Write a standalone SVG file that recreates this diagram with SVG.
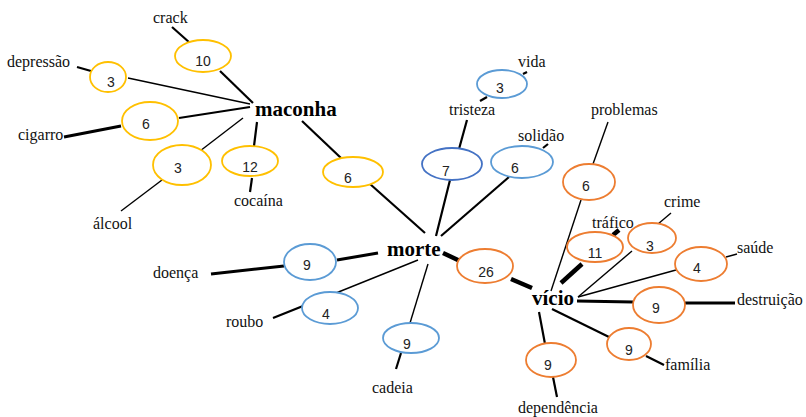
<svg xmlns="http://www.w3.org/2000/svg" width="806" height="417" viewBox="0 0 806 417">
  <style>
    .bg { fill: #ffffff; }
    .e { fill: #ffffff; stroke-width: 1.8; }
    .yl { stroke: #FFC000; }
    .bl { stroke: #5B9BD5; }
    .db { stroke: #4472C4; }
    .or { stroke: #ED7D31; }
    .n { font-family: "Liberation Sans", Arial, sans-serif; font-size: 14px; fill: #222222; text-anchor: middle; }
    .lb { font-family: "Liberation Serif", "Times New Roman", serif; font-size: 16px; fill: #111111; }
    .hub { font-family: "Liberation Serif", "Times New Roman", serif; font-size: 21px; font-weight: bold; fill: #000000; }
    .c { stroke: #000000; fill: none; stroke-linecap: butt; }
    .w1 { stroke-width: 1.4; }
    .w2 { stroke-width: 2.2; }
    .w3 { stroke-width: 3; }
    .w4 { stroke-width: 4.5; }
  </style>
  <rect class="bg" x="0" y="0" width="806" height="417"/>

  <!-- connectors -->
  <g id="connectors">
    <!-- maconha branch -->
    <line class="c w2" x1="172" y1="27" x2="190" y2="43"/>
    <line class="c w2" x1="220" y1="71" x2="253" y2="103"/>
    <line class="c w2" x1="77" y1="67" x2="91" y2="71"/>
    <line class="c w1" x1="128" y1="78" x2="250" y2="104"/>
    <line class="c w3" x1="64" y1="137" x2="121" y2="126"/>
    <line class="c w2" x1="179" y1="118" x2="250" y2="107"/>
    <line class="c w1" x1="121" y1="211" x2="162" y2="180"/>
    <line class="c w1" x1="200" y1="151" x2="243" y2="118"/>
    <line class="c w2" x1="254" y1="146" x2="257" y2="122"/>
    <line class="c w2" x1="252" y1="178" x2="250" y2="192"/>
    <line class="c w2" x1="302" y1="121" x2="341" y2="158"/>
    <!-- morte branch -->
    <line class="c w2" x1="370" y1="184" x2="425" y2="233"/>
    <line class="c w2" x1="450" y1="180" x2="436" y2="236"/>
    <line class="c w2" x1="467" y1="120" x2="459" y2="149"/>
    <line class="c w2" x1="480" y1="101" x2="487" y2="97"/>
    <line class="c w2" x1="523" y1="74" x2="527" y2="72"/>
    <line class="c w2" x1="543" y1="148" x2="548" y2="144"/>
    <line class="c w2" x1="509" y1="177" x2="441" y2="236"/>
    <line class="c w4" x1="443" y1="253" x2="460" y2="261"/>
    <line class="c w3" x1="378" y1="253" x2="337" y2="260"/>
    <line class="c w3" x1="284" y1="266" x2="211" y2="274"/>
    <line class="c w1" x1="418" y1="260" x2="336" y2="293"/>
    <line class="c w2" x1="303" y1="306" x2="273" y2="318"/>
    <line class="c w1" x1="428" y1="264" x2="410" y2="323"/>
    <line class="c w2" x1="401" y1="353" x2="396" y2="369"/>
    <!-- vício branch -->
    <line class="c w4" x1="511" y1="279" x2="532" y2="288"/>
    <line class="c w1" x1="608" y1="122" x2="593" y2="164"/>
    <line class="c w1" x1="581" y1="200" x2="551" y2="291"/>
    <line class="c w4" x1="619" y1="230" x2="613" y2="235"/>
    <line class="c w4" x1="582" y1="264" x2="561" y2="283"/>
    <line class="c w1" x1="671" y1="213" x2="658" y2="224"/>
    <line class="c w1" x1="632" y1="251" x2="578" y2="297"/>
    <line class="c w1" x1="726" y1="257" x2="737" y2="254"/>
    <line class="c w1" x1="676" y1="270" x2="578" y2="297"/>
    <line class="c w3" x1="577" y1="301" x2="633" y2="302"/>
    <line class="c w3" x1="685" y1="303" x2="735" y2="303"/>
    <line class="c w2" x1="552" y1="309" x2="609" y2="337"/>
    <line class="c w2" x1="646" y1="356" x2="664" y2="365"/>
    <line class="c w2" x1="539" y1="312" x2="545" y2="344"/>
    <line class="c w2" x1="553" y1="377" x2="557" y2="397"/>
  </g>

  <!-- hubs -->
  <g id="maconha"><text class="hub" x="255" y="116">maconha</text></g>
  <g id="morte"><text class="hub" x="387" y="256">morte</text></g>
  <g id="vicio"><text class="hub" x="532" y="305">vício</text></g>

  <!-- maconha group -->
  <g id="crack">
    <ellipse class="e yl" cx="203" cy="56" rx="28" ry="16"/>
    <text class="n" x="203" y="66">10</text>
    <text class="lb" x="153" y="23">crack</text>
  </g>
  <g id="depressao">
    <ellipse class="e yl" cx="108" cy="77" rx="18" ry="15"/>
    <text class="n" x="111" y="87">3</text>
    <text class="lb" x="7" y="67">depressão</text>
  </g>
  <g id="cigarro">
    <ellipse class="e yl" cx="150" cy="121" rx="28" ry="19"/>
    <text class="n" x="146" y="129">6</text>
    <text class="lb" x="18" y="140">cigarro</text>
  </g>
  <g id="alcool">
    <ellipse class="e yl" cx="182" cy="165" rx="29" ry="20"/>
    <text class="n" x="178" y="173">3</text>
    <text class="lb" x="93" y="229">álcool</text>
  </g>
  <g id="cocaina">
    <ellipse class="e yl" cx="250" cy="161" rx="28" ry="15"/>
    <text class="n" x="250" y="172">12</text>
    <text class="lb" x="234" y="206">cocaína</text>
  </g>
  <g id="maconha-morte">
    <ellipse class="e yl" cx="353" cy="172" rx="30" ry="15"/>
    <text class="n" x="348" y="183">6</text>
  </g>

  <!-- morte group -->
  <g id="tristeza">
    <ellipse class="e db" cx="452" cy="164" rx="30" ry="16"/>
    <text class="n" x="446" y="176">7</text>
    <text class="lb" x="449" y="115">tristeza</text>
  </g>
  <g id="vida">
    <ellipse class="e bl" cx="502" cy="84" rx="25" ry="14"/>
    <text class="n" x="500" y="93">3</text>
    <text class="lb" x="518" y="67">vida</text>
  </g>
  <g id="solidao">
    <ellipse class="e bl" cx="522" cy="162" rx="31" ry="16"/>
    <text class="n" x="515" y="173">6</text>
    <text class="lb" x="518" y="141">solidão</text>
  </g>
  <g id="doenca">
    <ellipse class="e bl" cx="310" cy="262" rx="26" ry="18"/>
    <text class="n" x="307" y="270">9</text>
    <text class="lb" x="153" y="278">doença</text>
  </g>
  <g id="roubo">
    <ellipse class="e bl" cx="330" cy="308" rx="28" ry="16"/>
    <text class="n" x="326" y="319">4</text>
    <text class="lb" x="226" y="327">roubo</text>
  </g>
  <g id="cadeia">
    <ellipse class="e bl" cx="411" cy="338" rx="28" ry="15"/>
    <text class="n" x="407" y="349">9</text>
    <text class="lb" x="372" y="393">cadeia</text>
  </g>
  <g id="morte-vicio">
    <ellipse class="e or" cx="485" cy="266" rx="28" ry="17"/>
    <text class="n" x="486" y="277">26</text>
  </g>

  <!-- vício group -->
  <g id="problemas">
    <ellipse class="e or" cx="589" cy="182" rx="26" ry="18"/>
    <text class="n" x="586" y="191">6</text>
    <text class="lb" x="591" y="115">problemas</text>
  </g>
  <g id="trafico">
    <ellipse class="e or" cx="595" cy="247" rx="28" ry="15"/>
    <text class="n" x="595" y="258">11</text>
    <text class="lb" x="592" y="228">tráfico</text>
  </g>
  <g id="crime">
    <ellipse class="e or" cx="652" cy="238" rx="24" ry="15"/>
    <text class="n" x="650" y="251">3</text>
    <text class="lb" x="664" y="207">crime</text>
  </g>
  <g id="saude">
    <ellipse class="e or" cx="701" cy="264" rx="26" ry="17"/>
    <text class="n" x="697" y="273">4</text>
    <text class="lb" x="737" y="253">saúde</text>
  </g>
  <g id="destruicao">
    <ellipse class="e or" cx="659" cy="305" rx="26" ry="18"/>
    <text class="n" x="656" y="313">9</text>
    <text class="lb" x="737" y="305">destruição</text>
  </g>
  <g id="familia">
    <ellipse class="e or" cx="629" cy="344" rx="22" ry="16"/>
    <text class="n" x="629" y="355">9</text>
    <text class="lb" x="665" y="370">família</text>
  </g>
  <g id="dependencia">
    <ellipse class="e or" cx="551" cy="360" rx="25" ry="17"/>
    <text class="n" x="548" y="370">9</text>
    <text class="lb" x="518" y="413">dependência</text>
  </g>
</svg>
